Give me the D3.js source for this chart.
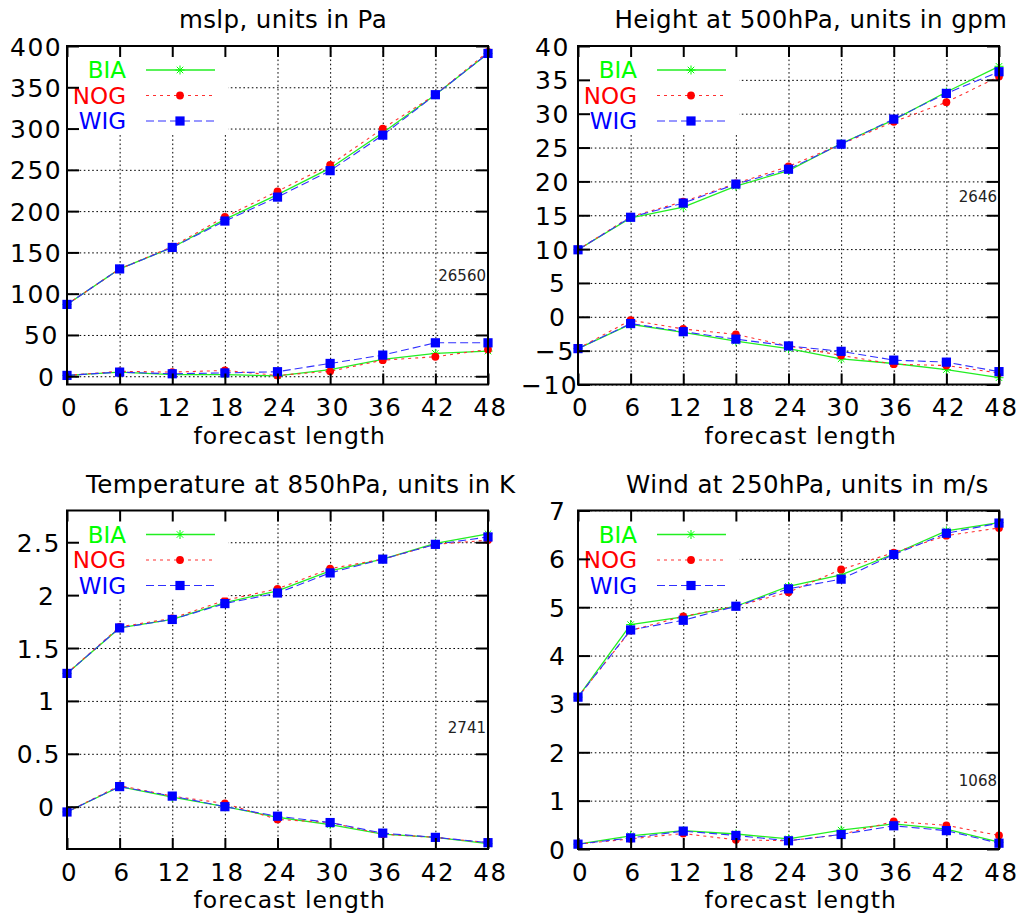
<!DOCTYPE html>
<html>
<head>
<meta charset="utf-8">
<script src="https://cdn.jsdelivr.net/npm/d3@7"></script>
<style>
  body { margin: 0; background: #fff; }
  svg text { font-family: "DejaVu Sans", sans-serif; }
</style>
</head>
<body>
<div id="container"></div>
<script>

const width = 1022;
const height = 916;

// forecast lead times (hours)
const leads = [0, 6, 12, 18, 24, 30, 36, 42, 48];
const names = ['BIA', 'NOG', 'WIG'];

const titles = [
    'mslp, units in Pa',
    'Height at 500hPa, units in gpm',
    'Temperature at 850hPa, units in K',
    'Wind at 250hPa, units in m/s'
];
const sampleCounts = ['26560', '2646', '2741', '1068'];
const sampleCountAt = [115, 17, 0.7, 1.3];

const yTicksMslp = [0, 50, 100, 150, 200, 250, 300, 350, 400];
const yTicksHeight = [-10, -5, 0, 5, 10, 15, 20, 25, 30, 35, 40];
const yTicksTemp = [0, 0.5, 1, 1.5, 2, 2.5];
const yTicksWind = [0, 1, 2, 3, 4, 5, 6, 7];

const yDomainMslp = [-10, 400];
const yDomainHeight = [-10, 40];
const yDomainTemp = [-0.4, 2.8];
const yDomainWind = [0, 7];

// upper curves (rmse) and lower curves (bias) per experiment
const mslpRmseBIA = [87, 130, 156, 190, 220, 252, 295, 341, 391];
const mslpRmseNOG = [87, 130, 157, 193, 224, 256, 300, 341, 393];
const mslpRmseWIG = [87, 130, 156, 188, 217, 249, 292, 341, 391];
const mslpBiasBIA = [1, 5, 2, 2, 0.5, 8, 20.5, 27.7, 30.5];
const mslpBiasNOG = [1, 6, 5, 7, 1, 6, 19.5, 23.6, 32.5];
const mslpBiasWIG = [1, 5, 3, 4, 5.5, 15.5, 25.6, 40.5, 40.5];

const heightRmseBIA = [9.9, 14.6, 16.2, 19.3, 21.6, 25.6, 29.1, 33.2, 37.0];
const heightRmseNOG = [9.9, 14.8, 17.0, 19.7, 22.2, 25.5, 28.8, 31.7, 35.5];
const heightRmseWIG = [9.9, 14.7, 16.8, 19.6, 21.8, 25.5, 29.2, 33.0, 36.2];
const heightBiasBIA = [-4.7, -1.1, -2.3, -3.6, -4.7, -6.2, -6.9, -7.8, -9.0];
const heightBiasNOG = [-4.7, -0.5, -1.8, -2.6, -4.3, -5.7, -7.0, -7.2, -8.3];
const heightBiasWIG = [-4.7, -1.0, -2.2, -3.3, -4.3, -5.1, -6.4, -6.7, -8.1];

const tempRmseBIA = [1.26, 1.69, 1.77, 1.93, 2.04, 2.23, 2.34, 2.49, 2.58];
const tempRmseNOG = [1.26, 1.70, 1.78, 1.95, 2.06, 2.25, 2.34, 2.48, 2.52];
const tempRmseWIG = [1.26, 1.69, 1.77, 1.92, 2.02, 2.21, 2.34, 2.48, 2.55];
const tempBiasBIA = [-0.05, 0.19, 0.09, 0.0, -0.10, -0.17, -0.26, -0.29, -0.35];
const tempBiasNOG = [-0.05, 0.20, 0.10, 0.03, -0.12, -0.15, -0.26, -0.29, -0.34];
const tempBiasWIG = [-0.05, 0.19, 0.10, 0.0, -0.09, -0.15, -0.25, -0.29, -0.34];

const windRmseBIA = [3.14, 4.64, 4.80, 5.02, 5.43, 5.67, 6.10, 6.58, 6.75];
const windRmseNOG = [3.14, 4.52, 4.81, 5.02, 5.31, 5.78, 6.13, 6.48, 6.64];
const windRmseWIG = [3.14, 4.53, 4.73, 5.02, 5.38, 5.58, 6.09, 6.53, 6.74];
const windBiasBIA = [0.10, 0.27, 0.38, 0.31, 0.21, 0.39, 0.52, 0.41, 0.14];
const windBiasNOG = [0.10, 0.21, 0.32, 0.19, 0.17, 0.30, 0.57, 0.49, 0.28];
const windBiasWIG = [0.10, 0.23, 0.37, 0.28, 0.17, 0.30, 0.48, 0.38, 0.12];


const panels = [
    { yTicks: yTicksMslp, domain: yDomainMslp,
      series: [[mslpRmseBIA, mslpBiasBIA], [mslpRmseNOG, mslpBiasNOG], [mslpRmseWIG, mslpBiasWIG]] },
    { yTicks: yTicksHeight, domain: yDomainHeight,
      series: [[heightRmseBIA, heightBiasBIA], [heightRmseNOG, heightBiasNOG], [heightRmseWIG, heightBiasWIG]] },
    { yTicks: yTicksTemp, domain: yDomainTemp,
      series: [[tempRmseBIA, tempBiasBIA], [tempRmseNOG, tempBiasNOG], [tempRmseWIG, tempBiasWIG]] },
    { yTicks: yTicksWind, domain: yDomainWind,
      series: [[windRmseBIA, windBiasBIA], [windRmseNOG, windBiasNOG], [windRmseWIG, windBiasWIG]] }
];

const plotW = 421;
const plotH = 338.5;
const lefts = [67, 578];
const tops = [46, 510.5];

const textColors = ['#00ff00', '#ff0000', '#0000ff'];
const lineColors = ['#22ee22', '#ff3030', '#3030ff'];
const dashes = [null, '3,4', '8,4'];

const svg = d3.select('#container').append('svg')
    .attr('width', width)
    .attr('height', height);

const fmt = d => (d < 0 ? '\u2212' + Math.abs(d) : String(d));
// gnuplot-ish estimated label width, used for its odd justification
const estWidth = s => s.split('').reduce((a, c) => a + (c === '.' ? 7.3 : 14), 0);

const starPath = r => {
    const k = r * 0.72;
    return `M${-r},0H${r}M0,${-r}V${r}M${-k},${-k}L${k},${k}M${-k},${k}L${k},${-k}`;
};

const drawMarker = (sel, i, px, py) => {
    if (i === 0) {
        sel.append('path').attr('d', starPath(4.5))
            .attr('transform', `translate(${px},${py})`)
            .attr('stroke', textColors[0]).attr('stroke-width', 1).attr('fill', 'none');
    } else if (i === 1) {
        sel.append('circle').attr('cx', px).attr('cy', py).attr('r', 3.9)
            .attr('fill', textColors[1]);
    } else {
        sel.append('rect').attr('x', px - 4.6).attr('y', py - 4.6)
            .attr('width', 9.2).attr('height', 9.2)
            .attr('fill', textColors[2]);
    }
};

const drawPanel = (p, idx) => {
    const left = lefts[idx % 2];
    const top = tops[Math.floor(idx / 2)];
    const g = svg.append('g').attr('transform', `translate(${left},${top})`);

    const x = d3.scaleLinear().domain([0, 48]).range([0, plotW]);
    const y = d3.scaleLinear().domain(p.domain).range([plotH, 0]);

    // dotted grid
    const grid = g.append('g').attr('stroke-dasharray', '1.6,2.6');
    grid.append('g')
        .call(d3.axisLeft(y).tickValues(p.yTicks).tickSize(-plotW).tickFormat(''))
        .call(s => s.select('.domain').remove());
    grid.append('g')
        .attr('transform', `translate(0,${plotH})`)
        .call(d3.axisBottom(x).tickValues(leads).tickSize(-plotH).tickFormat(''))
        .call(s => s.select('.domain').remove());
    grid.selectAll('line').attr('stroke', '#000').attr('stroke-width', 1);

    // data
    const line = d3.line().x((d, j) => x(leads[j])).y(d => y(d));
    p.series.forEach((pair, i) => {
        const sg = g.append('g');
        pair.forEach(vals => {
            sg.append('path')
                .attr('d', line(vals))
                .attr('fill', 'none')
                .attr('stroke', lineColors[i])
                .attr('stroke-width', i === 0 ? 1.3 : 1.1)
                .attr('stroke-dasharray', dashes[i]);
            vals.forEach((v, j) => drawMarker(sg, i, x(leads[j]), y(v)));
        });
    });

    // opaque key box
    g.append('rect')
        .attr('x', 1).attr('y', 1)
        .attr('width', 160).attr('height', 86)
        .attr('fill', '#fff');

    names.forEach((n, i) => {
        const ly = 24 + 25.5 * i;
        g.append('text')
            .attr('x', 59).attr('y', ly).attr('dy', '0.36em')
            .attr('text-anchor', 'end')
            .attr('font-size', 23)
            .attr('fill', textColors[i])
            .text(n);
        g.append('line')
            .attr('x1', 79).attr('x2', 148).attr('y1', ly).attr('y2', ly)
            .attr('stroke', lineColors[i])
            .attr('stroke-width', i === 0 ? 1.3 : 1.1)
            .attr('stroke-dasharray', dashes[i]);
        drawMarker(g, i, 113, ly);
    });

    // inward tick marks on all four sides
    const ticks = g.append('g');
    ticks.append('g').call(d3.axisLeft(y).tickValues(p.yTicks).tickSize(-12).tickFormat(''));
    ticks.append('g').attr('transform', `translate(${plotW},0)`)
        .call(d3.axisRight(y).tickValues(p.yTicks).tickSize(-12).tickFormat(''));
    ticks.append('g').call(d3.axisTop(x).tickValues(leads).tickSize(-11).tickFormat(''));
    ticks.append('g').attr('transform', `translate(0,${plotH})`)
        .call(d3.axisBottom(x).tickValues(leads).tickSize(-11).tickFormat(''));
    ticks.selectAll('.domain').remove();
    ticks.selectAll('line').attr('stroke', '#000').attr('stroke-width', 2);

    g.append('rect')
        .attr('width', plotW).attr('height', plotH)
        .attr('fill', 'none').attr('stroke', '#000').attr('stroke-width', 2);

    // y tick labels
    g.append('g')
        .call(d3.axisLeft(y).tickValues(p.yTicks).tickSize(0).tickFormat(fmt))
        .call(s => s.select('.domain').remove())
        .selectAll('text')
        .attr('text-anchor', 'start')
        .attr('x', d => -15 - estWidth(fmt(d)))
        .attr('dy', '0.36em')
        .attr('font-size', 25)
        .attr('letter-spacing', 1.5)
        .attr('font-family', '"DejaVu Sans", sans-serif')
        .attr('fill', '#000');

    // x tick labels
    g.append('g')
        .attr('transform', `translate(0,${plotH})`)
        .call(d3.axisBottom(x).tickValues(leads).tickSize(0).tickFormat(fmt))
        .call(s => s.select('.domain').remove())
        .selectAll('text')
        .attr('x', 2)
        .attr('y', 31.5)
        .attr('dy', 0)
        .attr('font-size', 24.5)
        .attr('letter-spacing', 1.6)
        .attr('font-family', '"DejaVu Sans", sans-serif')
        .attr('fill', '#000');

    g.append('text')
        .attr('x', plotW / 2 - 5.6 * 15)
        .attr('y', plotH + 59)
        .attr('font-size', 23.5)
        .attr('letter-spacing', 1)
        .attr('fill', '#000')
        .text('forecast length');

    g.append('text')
        .attr('x', plotW / 2 - 5.8 * titles[idx].length)
        .attr('y', -18)
        .attr('font-size', 24.5)
        .attr('letter-spacing', 0.4)
        .attr('fill', '#000')
        .text(titles[idx]);

    g.append('text')
        .attr('x', plotW - 2)
        .attr('y', y(sampleCountAt[idx]))
        .attr('text-anchor', 'end')
        .attr('font-size', 15)
        .attr('fill', '#222')
        .text(sampleCounts[idx]);
};

panels.forEach(drawPanel);

</script>
</body>
</html>
